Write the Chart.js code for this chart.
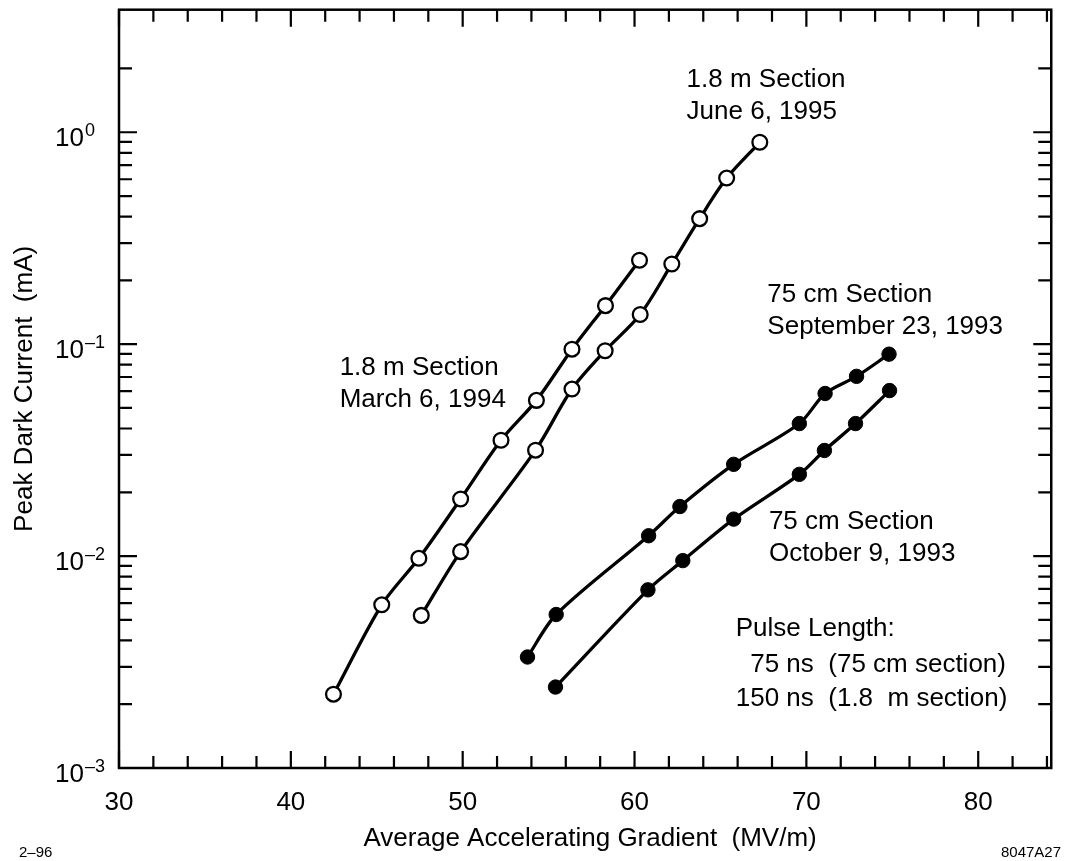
<!DOCTYPE html>
<html><head><meta charset="utf-8">
<script src="https://cdn.jsdelivr.net/npm/chart.js@4.4.0/dist/chart.umd.min.js"></script>
<style>html,body{margin:0;padding:0;background:#fff}#wrap{width:1066px;height:861px;position:relative}</style>
</head><body><div id="wrap"><canvas id="c"></canvas></div>
<script>
// ---- data ----
const marchX = [42.48, 45.29, 47.45, 49.88, 52.23, 54.29, 56.36, 58.31, 60.29];
const marchY = [0.00223, 0.00589, 0.00976, 0.0186, 0.0352, 0.0543, 0.0947, 0.152, 0.249];
const juneX = [47.59, 49.88, 54.24, 56.36, 58.29, 60.33, 62.17, 63.79, 65.36, 67.29];
const juneY = [0.00525, 0.0105, 0.0316, 0.0614, 0.0931, 0.138, 0.239, 0.391, 0.608, 0.897];
const sepX = [53.77, 55.44, 60.82, 62.64, 65.77, 69.59, 71.09, 72.92, 74.81];
const sepY = [0.00334, 0.0053, 0.01247, 0.01713, 0.0271, 0.0422, 0.0585, 0.0705, 0.0897];
const octX = [55.40, 60.78, 62.81, 65.77, 69.59, 71.05, 72.86, 74.84];
const octY = [0.00241, 0.00693, 0.00952, 0.01494, 0.0243, 0.0315, 0.0422, 0.0604];

const xTickValues = [30,32,34,36,38,40,42,44,46,48,50,52,54,56,58,60,62,64,66,68,70,72,74,76,78,80,82,84];
const xMajorTicks = [30, 40, 50, 60, 70, 80];
const yTickValues = [0.001,0.002,0.003,0.004,0.005,0.006,0.007,0.008,0.009,
                     0.01,0.02,0.03,0.04,0.05,0.06,0.07,0.08,0.09,
                     0.1,0.2,0.3,0.4,0.5,0.6,0.7,0.8,0.9,
                     1,2];
const yDecades = [0.001, 0.01, 0.1, 1];
const yDecadeExponents = ['\u20133', '\u20132', '\u20131', '0'];

const xTitle = 'Average Accelerating Gradient  (MV/m)';
const yTitle = 'Peak Dark Current  (mA)';
const notes = [
  {lines: ['1.8 m Section', 'June 6, 1995'], x: 63.03, y: 1.628},
  {lines: ['1.8 m Section', 'March 6, 1994'], x: 42.84, y: 0.0713},
  {lines: ['75 cm Section', 'September 23, 1993'], x: 67.73, y: 0.1588},
  {lines: ['75 cm Section', 'October 9, 1993'], x: 67.82, y: 0.01345},
];
const pulseLines = ['Pulse Length:', '75 ns  (75 cm section)', '150 ns  (1.8  m section)'];
const pulseAnchor = {x: 65.89, y: 0.004178};

const FONT = '"Liberation Sans", Arial, Helvetica, sans-serif';
Chart.defaults.font.family = FONT;
Chart.defaults.font.size = 26;
Chart.defaults.color = '#000';

function pts(xs, ys) { return xs.map((v, i) => ({x: v, y: ys[i]})); }
function ds(xs, ys, filled) {
  return {
    data: pts(xs, ys),
    borderColor: '#000', borderWidth: 3.3,
    pointRadius: filled ? 7.2 : 7.4, pointBorderWidth: filled ? 1 : 2.3,
    pointBorderColor: '#000',
    pointBackgroundColor: filled ? '#000' : '#fff',
    tension: 0.3, fill: false
  };
}

const frameTicks = {
  id: 'frameTicks',
  beforeDatasetsDraw(chart) {
    const {ctx, chartArea: a, scales: {x, y}} = chart;
    ctx.save();
    ctx.strokeStyle = '#000';
    ctx.lineWidth = 2.5;
    ctx.strokeRect(a.left, a.top, a.right - a.left, a.bottom - a.top);
    ctx.lineWidth = 2.2;
    ctx.beginPath();
    xTickValues.forEach(v => {
      const p = x.getPixelForValue(v);
      const L = xMajorTicks.includes(v) ? 17 : 12;
      ctx.moveTo(p, a.bottom); ctx.lineTo(p, a.bottom - L);
      ctx.moveTo(p, a.top); ctx.lineTo(p, a.top + L);
    });
    yTickValues.forEach(v => {
      const p = y.getPixelForValue(v);
      const L = yDecades.includes(v) ? 18 : 13;
      ctx.moveTo(a.left, p); ctx.lineTo(a.left + L, p);
      ctx.moveTo(a.right, p); ctx.lineTo(a.right - L, p);
    });
    ctx.stroke();
    ctx.restore();
  },
  afterDraw(chart) {
    const {ctx, chartArea: a, scales: {x, y}} = chart;
    ctx.save();
    ctx.fillStyle = '#000';
    ctx.textAlign = 'left';
    ctx.textBaseline = 'alphabetic';
    // y decade labels 10^n
    yDecades.forEach((v, i) => {
      const p = y.getPixelForValue(v);
      ctx.font = '26px ' + FONT;
      const lx = a.left - 64;
      ctx.fillText('10', lx, p + 14);
      const w = ctx.measureText('10').width;
      ctx.font = '18px ' + FONT;
      ctx.fillText(yDecadeExponents[i], lx + w + 1, p + 4);
    });
    // x axis title
    ctx.font = '26px ' + FONT;
    ctx.textAlign = 'center';
    ctx.fillText(xTitle, (a.left + a.right) / 2 + 5, 846);
    ctx.textAlign = 'left';
    // annotations
    notes.forEach(n => {
      const px = x.getPixelForValue(n.x), py = y.getPixelForValue(n.y);
      n.lines.forEach((t, k) => ctx.fillText(t, px, py + k * 32));
    });
    const ppx = x.getPixelForValue(pulseAnchor.x), ppy = y.getPixelForValue(pulseAnchor.y);
    const oneW = ctx.measureText('1').width;
    ctx.fillText(pulseLines[0], ppx, ppy);
    ctx.fillText(pulseLines[1], ppx + oneW, ppy + 36);
    ctx.fillText(pulseLines[2], ppx, ppy + 70);
    // footnotes
    ctx.font = '15px ' + FONT;
    ctx.fillText('2\u201396', 19, 857);
    ctx.textAlign = 'right';
    ctx.fillText('8047A27', 1061, 857);
    ctx.restore();
  }
};

new Chart(document.getElementById('c'), {
  type: 'line',
  data: {datasets: [ds(marchX, marchY, false), ds(juneX, juneY, false), ds(sepX, sepY, true), ds(octX, octY, true)]},
  options: {
    responsive: true, maintainAspectRatio: false, animation: false, devicePixelRatio: 1,
    layout: {padding: {top: 7, right: 1, bottom: 0, left: 0}},
    plugins: {legend: {display: false}, tooltip: {enabled: false}},
    scales: {
      x: {
        type: 'linear', min: 30, max: 84.25,
        grid: {display: false, drawTicks: false, tickLength: 0},
        border: {display: false},
        afterBuildTicks: s => { s.ticks = xTickValues.map(v => ({value: v})); },
        afterFit: s => { s.height = 93; },
        ticks: {autoSkip: false, maxRotation: 0, minRotation: 0, padding: 19,
                font: {size: 26},
                callback: v => xMajorTicks.includes(v) ? String(v) : ''},
        title: {display: false}
      },
      y: {
        type: 'logarithmic', min: 0.001, max: 3.787,
        grid: {display: false, drawTicks: false, tickLength: 0},
        border: {display: false},
        afterBuildTicks: s => { s.ticks = yTickValues.map(v => ({value: v})); },
        afterFit: s => { s.width = 119; },
        ticks: {display: false},
        title: {display: true, text: yTitle, font: {size: 26}, padding: {top: 9, bottom: 0}}
      }
    }
  },
  plugins: [frameTicks]
});
</script></body></html>
